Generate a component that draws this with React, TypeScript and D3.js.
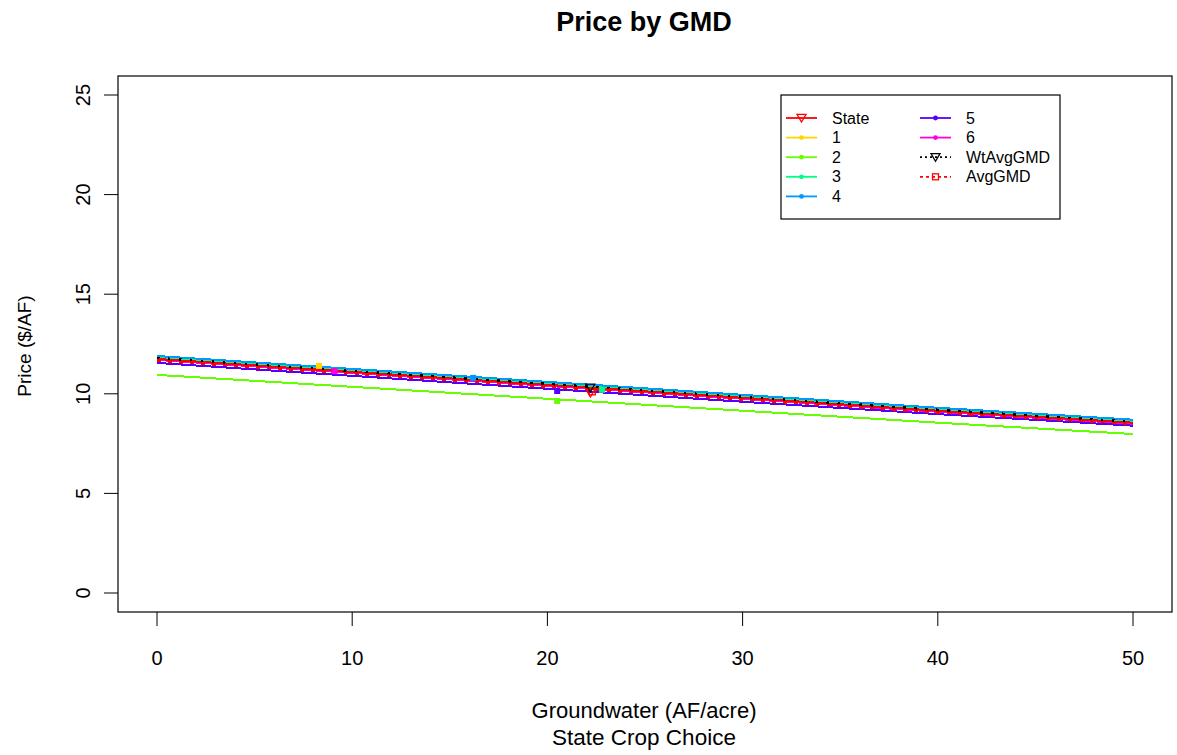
import React from "react";
import * as d3 from "d3";

// groundwater levels (AF/acre) where prices were read
const gwLevels = [0, 10, 20, 30, 40, 50];

const seriesNames = ["State", "1", "2", "3", "4", "5", "6", "WtAvgGMD", "AvgGMD"];
const seriesColors = ["#ff0000", "#ffd500", "#66ff00", "#00ff80", "#0099ff", "#5500ff", "#ff00dd", "#000000", "#ff0000"];

const priceState = [11.75, 11.1, 10.45, 9.8, 9.15, 8.55];
const price1 = [11.8, 11.15, 10.5, 9.85, 9.2, 8.6];
const price2 = [10.95, 10.35, 9.75, 9.15, 8.55, 7.98];
const price3 = [11.85, 11.2, 10.55, 9.9, 9.25, 8.65];
const price4 = [11.9, 11.25, 10.6, 9.95, 9.3, 8.7];
const price5 = [11.55, 10.9, 10.25, 9.6, 8.98, 8.4];
const price6 = [11.7, 11.05, 10.4, 9.75, 9.1, 8.5];
const priceWtAvg = [11.8, 11.15, 10.5, 9.85, 9.2, 8.6];
const priceAvg = [11.65, 11.0, 10.35, 9.7, 9.05, 8.48];

// one marker per series: [groundwater, price]
const markerX = [22.2, 8.3, 20.5, 22.8, 16.2, 20.5, 9.1, 22.2, 22.3];
const markerY = [10.04, 11.4, 9.64, 10.2, 10.8, 10.14, 11.14, 10.3, 10.1];

const xTicks = [0, 10, 20, 30, 40, 50];
const yTicks = [0, 5, 10, 15, 20, 25];

const W = 1177, H = 755;
const box = { left: 118, right: 1172, top: 76, bottom: 612 };
const font = "'Liberation Sans', Arial, sans-serif";

export default function App() {
  const x = d3.scaleLinear().domain([0, 50]).range([157, 1133]);
  const y = d3.scaleLinear().domain([0, 25]).range([593, 95]);

  const allPrices = [priceState, price1, price2, price3, price4, price5, price6, priceWtAvg, priceAvg];
  const line = d3.line<number>().x((_, i) => x(gwLevels[i])).y(d => y(d));

  const dash = (i: number) => (i === 7 ? "2.5 8.5" : i === 8 ? "4 7" : undefined);
  // draw order: coloured GMDs first, State, then averages on top
  const order = [2, 5, 6, 1, 3, 4, 0, 8, 7];

  const marker = (i: number, cx: number, cy: number, key: string) => {
    const c = seriesColors[i];
    if (i === 0 || i === 7) {
      const s = 4.5;
      return (
        <path key={key} d={`M${cx - s},${cy - s * 0.8}L${cx + s},${cy - s * 0.8}L${cx},${cy + s * 0.9}Z`}
          fill="none" stroke={c} strokeWidth={1.3} />
      );
    }
    if (i === 8) {
      return <rect key={key} x={cx - 3} y={cy - 3} width={6} height={6} fill="none" stroke={c} strokeWidth={1.3} />;
    }
    return <rect key={key} x={cx - 3} y={cy - 3} width={6} height={6} fill={c} />;
  };

  const legendRows = [
    [0, 1, 2, 3, 4],
    [5, 6, 7, 8],
  ];
  const legendX = [786, 920];
  const legendY0 = 118, legendStep = 19.6;

  return (
    <svg width={W} height={H} style={{ position: "absolute", left: 0, top: 0, background: "#fff" }} fontFamily={font}>
      <text x={644} y={31} textAnchor="middle" fontSize={27} fontWeight="bold">Price by GMD</text>

      <g shapeRendering="crispEdges">
        {order.map(i => (
          <path key={"l" + i} d={line(allPrices[i]) || ""} fill="none" stroke={seriesColors[i]}
            strokeWidth={i === 7 ? 2.4 : 2} strokeDasharray={dash(i)} />
        ))}
      </g>
      {order.map(i => marker(i, x(markerX[i]), y(markerY[i]), "m" + i))}

      <rect x={box.left} y={box.top} width={box.right - box.left} height={box.bottom - box.top}
        fill="none" stroke="#000" strokeWidth={1.2} />

      {xTicks.map(t => (
        <g key={"xt" + t}>
          <line x1={x(t)} x2={x(t)} y1={box.bottom} y2={box.bottom + 14} stroke="#000" />
          <text x={x(t)} y={665} textAnchor="middle" fontSize={20}>{t}</text>
        </g>
      ))}
      {yTicks.map(t => (
        <g key={"yt" + t}>
          <line x1={box.left - 14} x2={box.left} y1={y(t)} y2={y(t)} stroke="#000" />
          <text transform={`translate(90,${y(t)}) rotate(-90)`} textAnchor="middle" fontSize={20}>{t}</text>
        </g>
      ))}

      <text x={644} y={718} textAnchor="middle" fontSize={22}>Groundwater (AF/acre)</text>
      <text x={644} y={745} textAnchor="middle" fontSize={22.5}>State Crop Choice</text>
      <text transform={`translate(31,${y(12.5) + 2}) rotate(-90)`} textAnchor="middle" fontSize={19}>Price ($/AF)</text>

      <rect x={781} y={95} width={279} height={124} fill="#fff" stroke="#000" strokeWidth={1.2} />
      {legendRows.map((col, ci) =>
        col.map((i, ri) => {
          const ly = legendY0 + ri * legendStep;
          const lx = legendX[ci];
          return (
            <g key={"lg" + i}>
              <line x1={lx} x2={lx + 31} y1={ly} y2={ly} stroke={seriesColors[i]} strokeWidth={1.8}
                strokeDasharray={i === 7 ? "2 3" : i === 8 ? "3 3" : undefined} />
              {i === 0 || i === 7 || i === 8
                ? marker(i, lx + 15.5, ly, "lm" + i)
                : <circle cx={lx + 15.5} cy={ly} r={2.4} fill={seriesColors[i]} />}
              <text x={lx + 46} y={ly + 5.5} fontSize={16}>{seriesNames[i]}</text>
            </g>
          );
        })
      )}
    </svg>
  );
}
